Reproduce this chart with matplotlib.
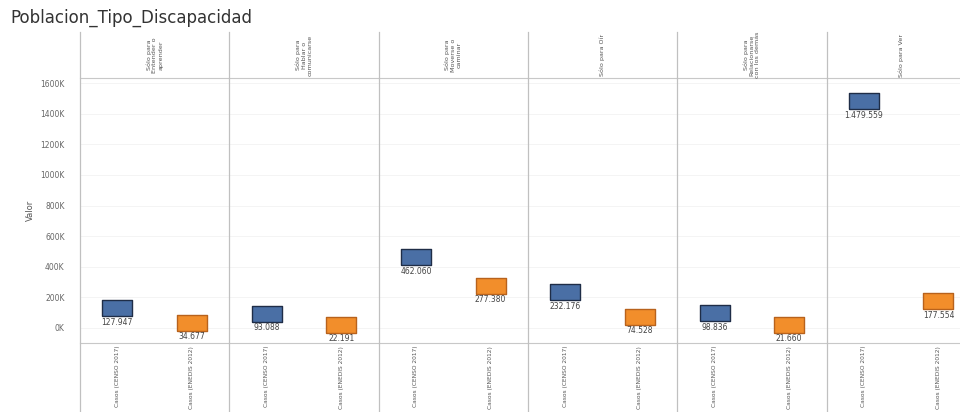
import matplotlib
matplotlib.use("Agg")
import matplotlib.pyplot as plt
from matplotlib.lines import Line2D

title = "Poblacion_Tipo_Discapacidad"
panels = ["Sólo para\nEntender o\naprender",
          "Sólo para\nHablar o\ncomunicarse",
          "Sólo para\nMoverse o\ncaminar",
          "Sólo para Oír",
          "Sólo para\nRelacionarse\ncon los demás",
          "Sólo para Ver"]
measures = ["Casos (CENSO 2017)", "Casos (ENEDIS 2012)"]
censo_2017 = [127947, 93088, 462060, 232176, 98836, 1479559]
enedis_2012 = [34677, 22191, 277380, 74528, 21660, 177554]
y_ticks = [0, 200000, 400000, 600000, 800000, 1000000, 1200000, 1400000, 1600000]
y_ticklabels = ["0K", "200K", "400K", "600K", "800K", "1000K", "1200K", "1400K", "1600K"]
y_label = "Valor"

W, H = 960, 412
fig = plt.figure(figsize=(W / 100, H / 100), dpi=100)
fig.patch.set_facecolor("white")

left_px, panel_w = 80, 149.3
top_px, bot_px = 78, 343
header_top = 32

colors = ["#4a6fa5", "#f28e2b"]
edges = ["#1f2d47", "#b8621c"]
rect_marker = [(-1, -0.55), (1, -0.55), (1, 0.55), (-1, 0.55), (-1, -0.55)]

def fmt(v):
    return f"{v:,}".replace(",", ".")

for i, name in enumerate(panels):
    x0 = left_px + i * panel_w
    ax = fig.add_axes([x0 / W, (H - bot_px) / H, panel_w / W, (bot_px - top_px) / H])
    ax.set_xlim(-0.5, 1.5)
    ax.set_ylim(-98000, 1633000)
    for s in ["right", "left"]:
        ax.spines[s].set_visible(False)
    ax.spines["top"].set_color("#c8c8c8")
    ax.spines["bottom"].set_color("#c8c8c8")
    ax.spines["top"].set_linewidth(0.8)
    ax.spines["bottom"].set_linewidth(0.8)
    ax.set_yticks(y_ticks)
    for yt in y_ticks:
        ax.axhline(yt, color="#f3f3f3", lw=0.6, zorder=0)
    if i == 0:
        ax.set_yticklabels(y_ticklabels, fontsize=5.5, color="#666666")
        ax.set_ylabel(y_label, fontsize=6, color="#555555", labelpad=4)
    else:
        ax.set_yticklabels([])
    ax.tick_params(axis="y", length=0, pad=11)
    ax.set_xticks([0, 1])
    ax.set_xticklabels(measures, rotation=90, fontsize=4.2, color="#555555",
                       va="top", ha="center")
    ax.tick_params(axis="x", length=0, pad=2)
    vals = [censo_2017[i], enedis_2012[i]]
    for j, v in enumerate(vals):
        ax.scatter([j], [v], marker=rect_marker, s=470, color=colors[j],
                   edgecolors=edges[j], linewidths=1.0, zorder=3)
        ax.annotate(fmt(v), xy=(j, v), xytext=(0, -7), textcoords="offset points",
                    ha="center", va="top", fontsize=5.5, color="#444444", zorder=4)
    # header text
    fig.text((x0 + panel_w / 2) / W, 1 - 55 / H, name, rotation=90, ha="center",
             va="center", multialignment="center", fontsize=4.6, color="#555555")
    # divider line through header and labels
    fig.add_artist(Line2D([x0 / W, x0 / W], [0, 1 - header_top / H],
                          color="#c0c0c0", lw=0.9))

fig.text(10 / W, 1 - 18 / H, title, fontsize=12, color="#333333",
         ha="left", va="center")

fig.savefig("out.png", dpi=100)
